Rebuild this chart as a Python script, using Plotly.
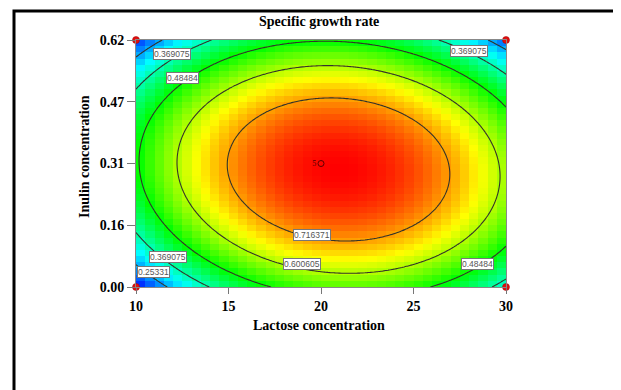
import numpy as np
import plotly.graph_objects as go

# Quadratic response-surface coefficients (coded units), estimated from the contours
# order: b0, b1 (X), b2 (Y), b12 (XY), b11 (X^2), b22 (Y^2)
model_coef = [0.8178, 0.0531, -0.0264, -0.0400, -0.2903, -0.3130]

lactose_range = [10, 30]
inulin_range = [0, 0.62]
x_ticks = [10, 15, 20, 25, 30]
y_tickvals = [0.0, 0.155, 0.31, 0.465, 0.62]
y_ticktext = ["0.00", "0.16", "0.31", "0.47", "0.62"]
levels = [0.25331, 0.369075, 0.48484, 0.600605, 0.716371]
design_x = [10, 10, 30, 30]
design_y = [0.0, 0.62, 0.0, 0.62]
center_x, center_y, center_n = [20], [0.31], ["5"]
label_text = ["0.369075", "0.48484", "0.369075", "0.716371", "0.600605",
              "0.369075", "0.25331", "0.48484"]
label_x = [11.97, 12.51, 27.98, 19.51, 18.98, 11.75, 10.94, 28.46]
label_y = [0.585, 0.5246, 0.5924, 0.1305, 0.0577, 0.0753, 0.0377, 0.0577]


def model(x, y):
    X = (x - 20) / 10
    Y = (y - 0.31) / 0.31
    b0, b1, b2, b12, b11, b22 = model_coef
    return b0 + b1 * X + b2 * Y + b12 * X * Y + b11 * X * X + b22 * Y * Y


nc = 40
xc = 10 + (np.arange(nc) + 0.5) * 20 / nc
yc = (np.arange(nc) + 0.5) * 0.62 / nc
XC, YC = np.meshgrid(xc, yc)
zc = model(XC, YC)
xf = np.linspace(10, 30, 161)
yf = np.linspace(0, 0.62, 161)
XF, YF = np.meshgrid(xf, yf)
zf = model(XF, YF)
zmin, zmax = zf.min(), zf.max()

cs = [[0, "rgb(0,0,255)"], [0.25, "rgb(0,255,255)"], [0.5, "rgb(0,255,0)"],
      [0.75, "rgb(255,255,0)"], [1, "rgb(255,0,0)"]]

fig = go.Figure()
fig.add_trace(go.Heatmap(x=xc, y=yc, z=zc, colorscale=cs, zmin=zmin, zmax=zmax,
                         showscale=False, hoverinfo="skip"))
fig.add_trace(go.Contour(x=xf, y=yf, z=zf, showscale=False, hoverinfo="skip",
                         contours=dict(start=levels[0], end=levels[-1],
                                       size=levels[1] - levels[0], coloring="none"),
                         line=dict(color="#34342a", width=1.1)))
fig.add_trace(go.Scatter(x=design_x, y=design_y, mode="markers", cliponaxis=False,
                         marker=dict(color="#e01010", size=7,
                                     line=dict(color="#a00000", width=0.5))))
fig.add_trace(go.Scatter(x=center_x, y=center_y, mode="markers+text", text=center_n,
                         textposition="middle left",
                         textfont=dict(family="Liberation Serif", size=8, color="#500000"),
                         marker=dict(symbol="circle-open", color="#600000", size=6,
                                     line=dict(width=1))))

# page offset of 8 px (body margin) is compensated here
OFF = 8
L, R, T, B = 136 - OFF, 115, 40 - OFF, 103
W, H = 621 - OFF, 390 - OFF
pw, ph = W - L - R, H - T - B


def px2paper(px, py):
    return (px - OFF - L) / pw, (H - B - (py - OFF)) / ph


ann = []
for t, x, y in zip(label_text, label_x, label_y):
    ann.append(dict(x=x, y=y, xref="x", yref="y", text=t, showarrow=False,
                    font=dict(family="Liberation Sans", size=8.5, color="#555"),
                    bgcolor="white", bordercolor="#777", borderwidth=1, borderpad=0))
tf = dict(family="Liberation Serif", size=14, color="black", weight="bold")
tkf = dict(family="Liberation Serif", size=14, color="black", weight="bold")
px_, py_ = px2paper(319, 22)
ann.append(dict(x=px_, y=py_, xref="paper", yref="paper", text="Specific growth rate",
                showarrow=False, font=tf, yanchor="middle"))
px_, py_ = px2paper(319, 325)
ann.append(dict(x=px_, y=py_, xref="paper", yref="paper", text="Lactose concentration",
                showarrow=False, font=tf, yanchor="middle"))
px_, py_ = px2paper(84, 157)
ann.append(dict(x=px_, y=py_, xref="paper", yref="paper", text="Inulin concentration",
                showarrow=False, font=tf, textangle=-90, xanchor="center", yanchor="middle"))

x0, y1 = px2paper(14, 11)
x1, y0 = px2paper(617, 400)
fig.update_layout(
    width=W, height=H, margin=dict(l=L, r=R, t=T, b=B),
    paper_bgcolor="white", plot_bgcolor="white", showlegend=False,
    annotations=ann,
    shapes=[dict(type="rect", xref="paper", yref="paper", x0=x0, x1=x1, y0=y0, y1=y1,
                 line=dict(color="black", width=3))],
    xaxis=dict(range=lactose_range, tickvals=x_ticks, ticks="outside", ticklen=6,
               tickcolor="#777", showline=True, linecolor="#888", mirror=True,
               showgrid=False, zeroline=False, tickfont=tkf),
    yaxis=dict(range=inulin_range, tickvals=y_tickvals, ticktext=y_ticktext,
               ticks="outside", ticklen=8, tickcolor="#777", showline=True,
               linecolor="#888", mirror=True, showgrid=False, zeroline=False, tickfont=tkf),
)
fig.write_html("out.html")
